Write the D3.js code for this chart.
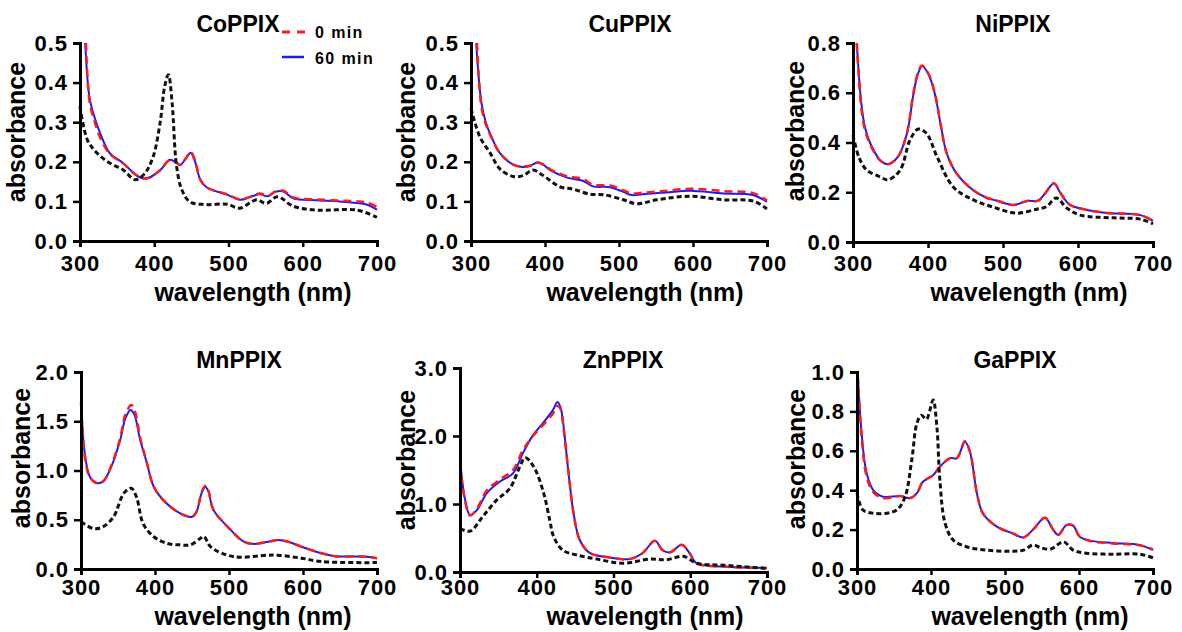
<!DOCTYPE html>
<html>
<head>
<meta charset="utf-8">
<script src="https://cdn.jsdelivr.net/npm/d3@7/dist/d3.min.js"></script>
<style>
body { margin: 0; background: #fff; }
svg text { font-family: "Liberation Sans", Arial, sans-serif; font-weight: bold; fill: #000; }
</style>
</head>
<body>
<div id="chart"></div>
<script>

/*
DATA  (wavelength nm, absorbance)
*/

const xTicks = [300, 400, 500, 600, 700];

// CoPPIX
const coBlack = [[300,0.34],[310,0.255],[323,0.222],[340,0.197],[358,0.18],[374,0.155],[386,0.168],[398,0.21],[408,0.3],[414,0.39],[419,0.42],[424,0.35],[430,0.19],[437,0.13],[448,0.099],[470,0.092],[498,0.093],[515,0.083],[538,0.104],[551,0.095],[566,0.112],[587,0.088],[620,0.078],[673,0.078],[700,0.06]];
const coRed = [[308,0.5],[313,0.35],[320,0.3],[327,0.262],[340,0.22],[358,0.196],[372,0.172],[383,0.159],[392,0.159],[408,0.179],[421,0.205],[428,0.2],[435,0.192],[443,0.21],[449,0.225],[455,0.202],[462,0.155],[471,0.135],[498,0.118],[516,0.105],[530,0.112],[542,0.12],[553,0.114],[563,0.125],[574,0.127],[587,0.11],[619,0.105],[650,0.102],[673,0.1],[686,0.097],[700,0.086]];
const coBlue = [[307,0.5],[313,0.36],[320,0.31],[327,0.273],[340,0.222],[358,0.197],[372,0.172],[383,0.159],[392,0.159],[408,0.179],[421,0.205],[428,0.2],[435,0.192],[443,0.21],[449,0.223],[455,0.2],[462,0.155],[471,0.135],[498,0.117],[516,0.104],[530,0.112],[542,0.118],[553,0.113],[563,0.124],[574,0.125],[587,0.108],[619,0.103],[650,0.1],[673,0.096],[686,0.092],[700,0.079]];
const coTicks = [0, 0.1, 0.2, 0.3, 0.4, 0.5];

// CuPPIX
const cuBlack = [[300,0.335],[312,0.263],[326,0.222],[339,0.182],[357,0.163],[370,0.165],[384,0.179],[397,0.166],[420,0.137],[438,0.131],[461,0.118],[479,0.117],[506,0.104],[524,0.094],[551,0.104],[596,0.113],[641,0.104],[681,0.101],[700,0.081]];
const cuRed = [[308,0.5],[314,0.34],[320,0.295],[326,0.268],[339,0.222],[357,0.193],[370,0.188],[380,0.19],[390,0.198],[398,0.193],[407,0.181],[430,0.163],[451,0.157],[465,0.142],[488,0.14],[506,0.128],[517,0.12],[532,0.122],[560,0.126],[596,0.132],[641,0.126],[681,0.121],[700,0.102]];
const cuBlue = [[307,0.5],[314,0.35],[320,0.3],[326,0.27],[339,0.222],[357,0.193],[370,0.187],[380,0.19],[390,0.198],[398,0.192],[407,0.179],[430,0.16],[451,0.152],[465,0.138],[488,0.136],[506,0.124],[517,0.116],[532,0.118],[560,0.122],[596,0.127],[641,0.12],[681,0.116],[700,0.099]];
const cuTicks = [0, 0.1, 0.2, 0.3, 0.4, 0.5];

// NiPPIX
const niBlack = [[300,0.43],[308,0.34],[318,0.29],[336,0.262],[347,0.25],[363,0.29],[376,0.41],[387,0.454],[398,0.437],[412,0.343],[434,0.22],[460,0.17],[487,0.14],[518,0.116],[545,0.132],[558,0.142],[571,0.177],[585,0.137],[603,0.108],[647,0.097],[683,0.092],[700,0.073]];
const niRed = [[305,0.8],[311,0.54],[316,0.45],[323,0.392],[336,0.328],[347,0.313],[360,0.343],[372,0.44],[380,0.59],[386,0.675],[392,0.71],[400,0.68],[409,0.6],[417,0.47],[425,0.356],[438,0.276],[460,0.209],[478,0.178],[492,0.166],[514,0.149],[532,0.165],[547,0.166],[556,0.195],[568,0.236],[576,0.2],[589,0.15],[612,0.129],[638,0.117],[683,0.108],[700,0.086]];
const niBlue = [[305,0.8],[311,0.56],[316,0.46],[323,0.397],[336,0.33],[347,0.313],[360,0.343],[372,0.437],[380,0.584],[386,0.67],[392,0.707],[400,0.678],[409,0.597],[417,0.47],[425,0.356],[438,0.276],[460,0.209],[478,0.178],[492,0.166],[514,0.149],[532,0.165],[547,0.166],[556,0.195],[568,0.236],[576,0.2],[589,0.15],[612,0.129],[638,0.117],[683,0.108],[700,0.085]];
const niTicks = [0, 0.2, 0.4, 0.6, 0.8];

// MnPPIX
const mnBlack = [[300,0.48],[317,0.41],[330,0.43],[344,0.53],[358,0.77],[368,0.82],[375,0.73],[384,0.46],[398,0.33],[416,0.26],[434,0.245],[448,0.245],[461,0.31],[466,0.33],[475,0.226],[498,0.14],[516,0.12],[552,0.14],[566,0.14],[598,0.11],[625,0.075],[700,0.065]];
const mnRed = [[300,1.7],[305,1.15],[312,0.93],[321,0.873],[330,0.89],[341,1.05],[353,1.33],[360,1.57],[368,1.665],[373,1.6],[380,1.33],[389,1.08],[398,0.84],[411,0.7],[434,0.565],[450,0.53],[456,0.58],[463,0.78],[468,0.845],[472,0.8],[479,0.6],[498,0.43],[520,0.277],[534,0.254],[553,0.277],[566,0.294],[580,0.277],[598,0.226],[625,0.16],[643,0.13],[686,0.125],[700,0.11]];
const mnBlue = [[300,1.75],[305,1.18],[312,0.937],[321,0.873],[330,0.89],[341,1.04],[353,1.31],[360,1.53],[367,1.615],[372,1.57],[380,1.31],[389,1.076],[398,0.84],[411,0.7],[434,0.565],[450,0.53],[456,0.58],[463,0.77],[468,0.836],[472,0.79],[479,0.6],[498,0.43],[520,0.277],[534,0.254],[553,0.277],[566,0.294],[580,0.277],[598,0.226],[625,0.16],[643,0.13],[686,0.125],[700,0.11]];
const mnTicks = [0, 0.5, 1.0, 1.5, 2.0];

// ZnPPIX
const znBlack = [[300,0.64],[313,0.6],[330,0.82],[348,1.06],[365,1.23],[378,1.55],[385,1.68],[396,1.55],[409,1.16],[417,0.76],[422,0.52],[434,0.32],[452,0.25],[478,0.19],[513,0.13],[547,0.19],[569,0.18],[591,0.23],[608,0.13],[643,0.1],[700,0.05]];
const znRed = [[300,1.6],[306,1.08],[313,0.83],[322,0.93],[335,1.2],[352,1.36],[369,1.5],[382,1.79],[395,2.0],[408,2.16],[421,2.33],[427,2.44],[431,2.4],[434,2.2],[441,1.5],[448,0.86],[456,0.47],[469,0.28],[491,0.22],[521,0.19],[538,0.28],[554,0.46],[564,0.32],[574,0.29],[589,0.4],[599,0.28],[608,0.13],[643,0.08],[700,0.06]];
const znBlue = [[300,1.69],[306,1.1],[313,0.84],[322,0.91],[335,1.16],[352,1.33],[369,1.45],[382,1.75],[395,2.01],[408,2.19],[421,2.38],[427,2.5],[431,2.42],[434,2.23],[441,1.5],[448,0.86],[456,0.47],[469,0.28],[491,0.22],[521,0.19],[538,0.28],[554,0.46],[564,0.32],[574,0.29],[589,0.4],[599,0.28],[608,0.13],[643,0.08],[700,0.06]];
const znTicks = [0, 1.0, 2.0, 3.0];

// GaPPIX
const gaBlack = [[300,0.385],[308,0.3],[322,0.283],[340,0.283],[354,0.3],[365,0.367],[374,0.553],[381,0.74],[387,0.78],[394,0.76],[398,0.8],[403,0.858],[408,0.72],[412,0.45],[419,0.233],[430,0.147],[448,0.113],[475,0.096],[511,0.09],[525,0.096],[538,0.122],[547,0.11],[561,0.1],[579,0.138],[592,0.096],[610,0.08],[646,0.075],[682,0.075],[700,0.057]];
const gaRed = [[301,0.98],[306,0.68],[313,0.47],[322,0.39],[335,0.36],[358,0.37],[372,0.36],[381,0.385],[389,0.443],[403,0.477],[412,0.52],[426,0.563],[435,0.563],[446,0.65],[453,0.59],[462,0.385],[470,0.283],[489,0.215],[511,0.18],[525,0.16],[538,0.2],[554,0.26],[565,0.2],[572,0.173],[583,0.223],[592,0.22],[601,0.164],[615,0.142],[646,0.13],[682,0.12],[700,0.1]];
const gaBlue = [[301,1.0],[306,0.7],[313,0.487],[322,0.4],[335,0.367],[358,0.37],[372,0.36],[381,0.385],[389,0.443],[403,0.477],[412,0.52],[426,0.563],[435,0.563],[446,0.646],[453,0.59],[462,0.385],[470,0.283],[489,0.215],[511,0.18],[525,0.16],[538,0.2],[554,0.26],[565,0.2],[572,0.173],[583,0.223],[592,0.22],[601,0.164],[615,0.144],[646,0.132],[682,0.122],[700,0.096]];
const gaTicks = [0, 0.2, 0.4, 0.6, 0.8, 1.0];

/*
PANEL LAYOUT
*/

const panels = [
    {title:"CoPPIX", black:coBlack, red:coRed, blue:coBlue, yTicks:coTicks, left:80, right:377, top:43, bottom:241, titleX:238, titleY:32, yLabX:25, yLabY:132, xLabX:253, xLabY:301, xPad:8, legend:true},
    {title:"CuPPIX", black:cuBlack, red:cuRed, blue:cuBlue, yTicks:cuTicks, left:471, right:767, top:43, bottom:241, titleX:630, titleY:32, yLabX:415, yLabY:132, xLabX:645, xLabY:301, xPad:8},
    {title:"NiPPIX", black:niBlack, red:niRed, blue:niBlue, yTicks:niTicks, left:853, right:1153, top:43, bottom:242, titleX:1013, titleY:32, yLabX:804, yLabY:131, xLabX:1029, xLabY:301, xPad:7},
    {title:"MnPPIX", black:mnBlack, red:mnRed, blue:mnBlue, yTicks:mnTicks, left:81, right:377, top:372, bottom:569, titleX:239, titleY:368, yLabX:30, yLabY:458, xLabX:253, xLabY:625, xPad:4},
    {title:"ZnPPIX", black:znBlack, red:znRed, blue:znBlue, yTicks:znTicks, left:460, right:767, top:368, bottom:572, titleX:623, titleY:368, yLabX:415, yLabY:460, xLabX:645, xLabY:625, xPad:1},
    {title:"GaPPIX", black:gaBlack, red:gaRed, blue:gaBlue, yTicks:gaTicks, left:857, right:1153, top:372, bottom:569, titleX:1015, titleY:368, yLabX:805, yLabY:459, xLabX:1030, xLabY:625, xPad:4}
];

const width = 1182;
const height = 632;

const svg = d3.select("#chart")
    .append("svg")
    .attr("width", width)
    .attr("height", height);

panels.forEach(function(p){

    const xScale = d3.scaleLinear()
        .domain([300, 700])
        .range([p.left, p.right]);

    const yScale = d3.scaleLinear()
        .domain([0, d3.max(p.yTicks)])
        .range([p.bottom, p.top]);

    const line = d3.line()
        .x(function(d){ return xScale(d[0]); })
        .y(function(d){ return yScale(d[1]); })
        .curve(d3.curveCatmullRom.alpha(0.5));

    /*
    CURVES
    */

    svg.append("path")
        .datum(p.blue)
        .attr("d", line)
        .attr("fill", "none")
        .attr("stroke", "#1a1aff")
        .attr("stroke-width", 2);

    svg.append("path")
        .datum(p.red)
        .attr("d", line)
        .attr("fill", "none")
        .attr("stroke", "#ff1a1a")
        .attr("stroke-width", 2.5)
        .attr("stroke-dasharray", "8,5");

    svg.append("path")
        .datum(p.black)
        .attr("d", line)
        .attr("fill", "none")
        .attr("stroke", "#111")
        .attr("stroke-width", 3)
        .attr("stroke-dasharray", "5,3");

    /*
    AXES
    */

    const fmt = d3.format(".1f");

    const xAxis = svg.append("g")
        .attr("transform", `translate(0, ${p.bottom})`)
        .call(d3.axisBottom(xScale).tickValues(xTicks).tickFormat(d3.format("d")).tickSize(6).tickPadding(p.xPad));

    const yAxis = svg.append("g")
        .attr("transform", `translate(${p.left}, 0)`)
        .call(d3.axisLeft(yScale).tickValues(p.yTicks).tickFormat(fmt).tickSize(7).tickPadding(5));

    [xAxis, yAxis].forEach(function(a){
        a.attr("font-family", null).attr("font-size", null);
        a.select(".domain").attr("stroke", "#000").attr("stroke-width", 3);
        a.selectAll(".tick line").attr("stroke", "#000").attr("stroke-width", 2.5);
        a.selectAll(".tick text")
            .style("font-size", "22px")
            .style("letter-spacing", "1px");
    });

    /*
    LABELS
    */

    svg.append("text")
        .attr("x", p.titleX)
        .attr("y", p.titleY)
        .attr("text-anchor", "middle")
        .style("font-size", "23px")
        .text(p.title);

    svg.append("text")
        .attr("x", p.xLabX)
        .attr("y", p.xLabY)
        .attr("text-anchor", "middle")
        .style("font-size", "25px")
        .text("wavelength (nm)");

    svg.append("text")
        .attr("transform", `translate(${p.yLabX}, ${p.yLabY}) rotate(-90)`)
        .attr("text-anchor", "middle")
        .style("font-size", "25px")
        .text("absorbance");

    if (p.legend) {
        svg.append("line")
            .attr("x1", 282).attr("x2", 306)
            .attr("y1", 32).attr("y2", 32)
            .attr("stroke", "#ff1a1a")
            .attr("stroke-width", 3)
            .attr("stroke-dasharray", "8,7");

        svg.append("text")
            .attr("x", 315)
            .attr("y", 38)
            .style("font-size", "16px")
            .style("letter-spacing", "1.4px")
            .text("0 min");

        svg.append("line")
            .attr("x1", 282).attr("x2", 304)
            .attr("y1", 57).attr("y2", 57)
            .attr("stroke", "#1a1aff")
            .attr("stroke-width", 2.5);

        svg.append("text")
            .attr("x", 315)
            .attr("y", 64)
            .style("font-size", "16px")
            .style("letter-spacing", "1.4px")
            .text("60 min");
    }
});

</script>
</body>
</html>
